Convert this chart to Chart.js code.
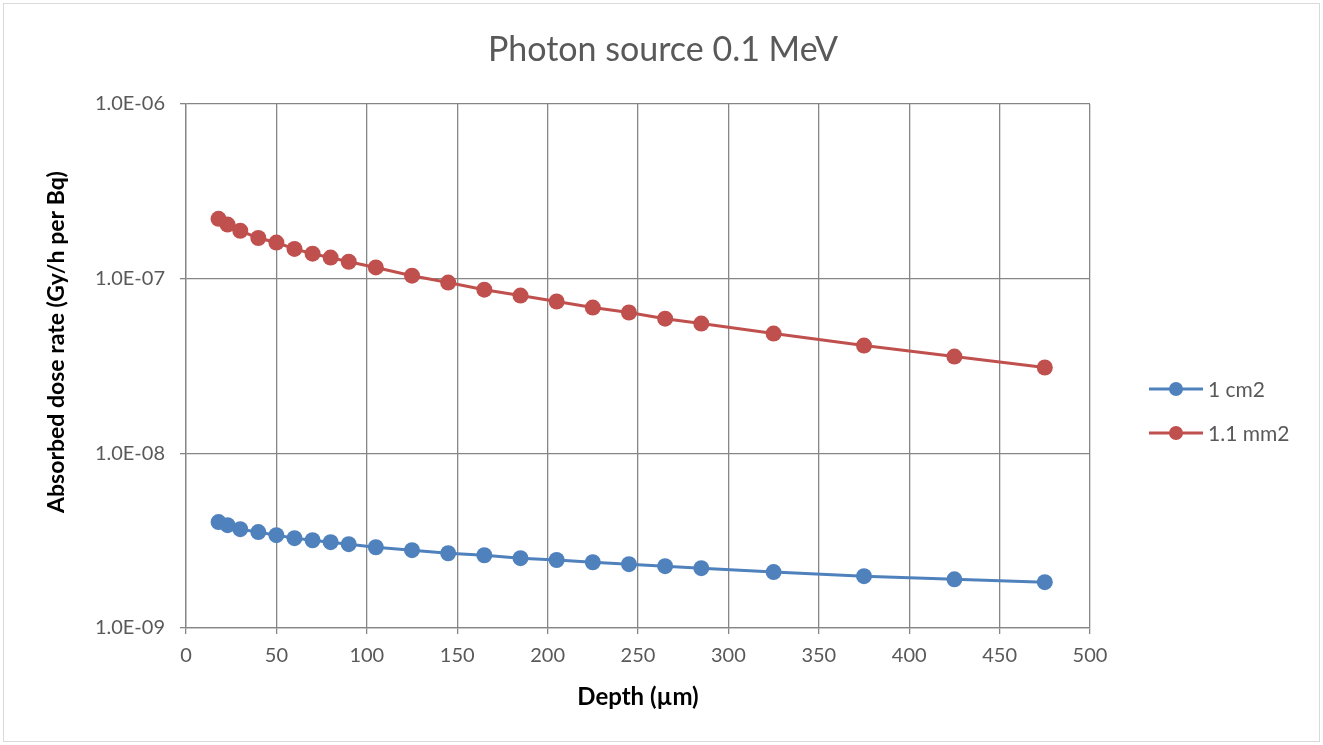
<!DOCTYPE html>
<html>
<head>
<meta charset="utf-8">
<script src="https://cdn.jsdelivr.net/npm/chart.js@4"></script>
<style>
  html, body { margin: 0; padding: 0; background: #fff; }
  #wrap { width: 1323px; height: 745px; }
</style>
</head>
<body>
<div id="wrap"><canvas id="myChart" width="1323" height="745"></canvas></div>
<script>
let depth = [18, 23, 30, 40, 50, 60, 70, 80, 90, 105, 125, 145, 165, 185, 205, 225, 245, 265, 285, 325, 375, 425, 475];
let dose1cm2 = [4.04e-9, 3.88e-9, 3.68e-9, 3.54e-9, 3.40e-9, 3.27e-9, 3.18e-9, 3.10e-9, 3.02e-9, 2.90e-9, 2.79e-9, 2.68e-9, 2.61e-9, 2.51e-9, 2.45e-9, 2.38e-9, 2.32e-9, 2.26e-9, 2.20e-9, 2.09e-9, 1.98e-9, 1.90e-9, 1.83e-9];
let dose11mm2 = [2.20e-7, 2.04e-7, 1.88e-7, 1.71e-7, 1.61e-7, 1.48e-7, 1.39e-7, 1.32e-7, 1.25e-7, 1.16e-7, 1.04e-7, 9.5e-8, 8.65e-8, 8.0e-8, 7.4e-8, 6.83e-8, 6.4e-8, 5.9e-8, 5.53e-8, 4.85e-8, 4.14e-8, 3.58e-8, 3.1e-8];
let yTicks = [1e-9, 1e-8, 1e-7, 1e-6];
let seriesNames = ['1 cm2', '1.1 mm2'];
let colores = ['#4f81bd', '#c0504d'];

let fuente = 'Lato, "Open Sans", sans-serif';
let gris = '#595959';
let rejilla = '#868686';

function puntos(vals){
    return depth.map((d, i) => ({x: d, y: vals[i]}));
}

// titulo, titulo del eje Y, borde exterior y leyenda
let extras = {
    id: 'extras',
    beforeDraw(chart){
        let c = chart.ctx;
        c.save();
        c.fillStyle = '#fff';
        c.fillRect(0, 0, chart.width, chart.height);
        c.strokeStyle = '#d9d9d9';
        c.lineWidth = 1;
        c.strokeRect(3.5, 3.5, chart.width - 7, chart.height - 7);
        c.restore();
    },
    afterDraw(chart){
        let c = chart.ctx;
        c.save();
        c.fillStyle = gris;
        c.font = '34px ' + fuente;
        c.textAlign = 'center';
        c.textBaseline = 'middle';
        c.fillText('Photon source 0.1 MeV', 663, 50);

        // titulo eje Y
        c.save();
        c.translate(57, 342);
        c.rotate(-Math.PI / 2);
        c.fillStyle = '#000';
        c.font = 'bold 23px ' + fuente;
        c.fillText('Absorbed dose rate (Gy/h per Bq)', 0, 0);
        c.restore();

        c.font = '21px ' + fuente;
        c.textAlign = 'left';
        chart.data.datasets.forEach((ds, i) => {
            let y = 389 + i * 44;
            c.strokeStyle = ds.borderColor;
            c.lineWidth = 3;
            c.beginPath();
            c.moveTo(1149, y);
            c.lineTo(1203, y);
            c.stroke();
            c.fillStyle = ds.backgroundColor;
            c.beginPath();
            c.arc(1176, y, 7, 0, Math.PI * 2);
            c.fill();
            c.fillStyle = gris;
            c.fillText(ds.label, 1208, y + 1);
        });
        c.restore();
    }
};

var ctx = document.getElementById('myChart').getContext('2d');
var chart = new Chart(ctx, {
    type: 'line',
    data: {
        datasets: [
            {
                label: seriesNames[0],
                data: puntos(dose1cm2),
                borderColor: colores[0],
                backgroundColor: colores[0],
                borderWidth: 3,
                pointRadius: 8,
                pointHoverRadius: 8,
                pointBorderWidth: 0,
                tension: 0
            },
            {
                label: seriesNames[1],
                data: puntos(dose11mm2),
                borderColor: colores[1],
                backgroundColor: colores[1],
                borderWidth: 3,
                pointRadius: 8,
                pointHoverRadius: 8,
                pointBorderWidth: 0,
                tension: 0
            }
        ]
    },
    options: {
        responsive: false,
        animation: false,
        events: [],
        layout: { padding: { left: 0, top: 104, right: 233, bottom: 0 } },
        plugins: {
            legend: { display: false },
            title: { display: false },
            tooltip: { enabled: false }
        },
        scales: {
            x: {
                type: 'linear',
                min: 0,
                max: 500,
                afterFit(scale){ scale.height = 117; },
                ticks: {
                    stepSize: 50,
                    color: gris,
                    font: { family: fuente, size: 20 },
                    padding: 10,
                    maxRotation: 0
                },
                grid: { color: rejilla, lineWidth: 1.3, tickLength: 6, drawTicks: true },
                border: { color: rejilla, width: 1.3 },
                title: {
                    display: true,
                    text: 'Depth (µm)',
                    color: '#000',
                    font: { family: fuente, size: 24, weight: 'bold' },
                    padding: { top: 0, bottom: 33 }
                }
            },
            y: {
                type: 'logarithmic',
                min: 1e-9,
                max: 1e-6,
                afterFit(scale){ scale.width = 186; },
                afterBuildTicks(scale){
                    scale.ticks = yTicks.map(v => ({value: v}));
                },
                ticks: {
                    color: gris,
                    font: { family: fuente, size: 20 },
                    padding: 15,
                    callback: function(v){
                        let e = Math.round(Math.log10(v));
                        let s = Math.abs(e).toString().padStart(2, '0');
                        return '1.0E' + (e < 0 ? '-' : '+') + s;
                    }
                },
                grid: { color: rejilla, lineWidth: 1.3, tickLength: 6, drawTicks: true },
                border: { color: rejilla, width: 1.3 },
                title: { display: false }
            }
        }
    },
    plugins: [extras]
});
</script>
</body>
</html>
